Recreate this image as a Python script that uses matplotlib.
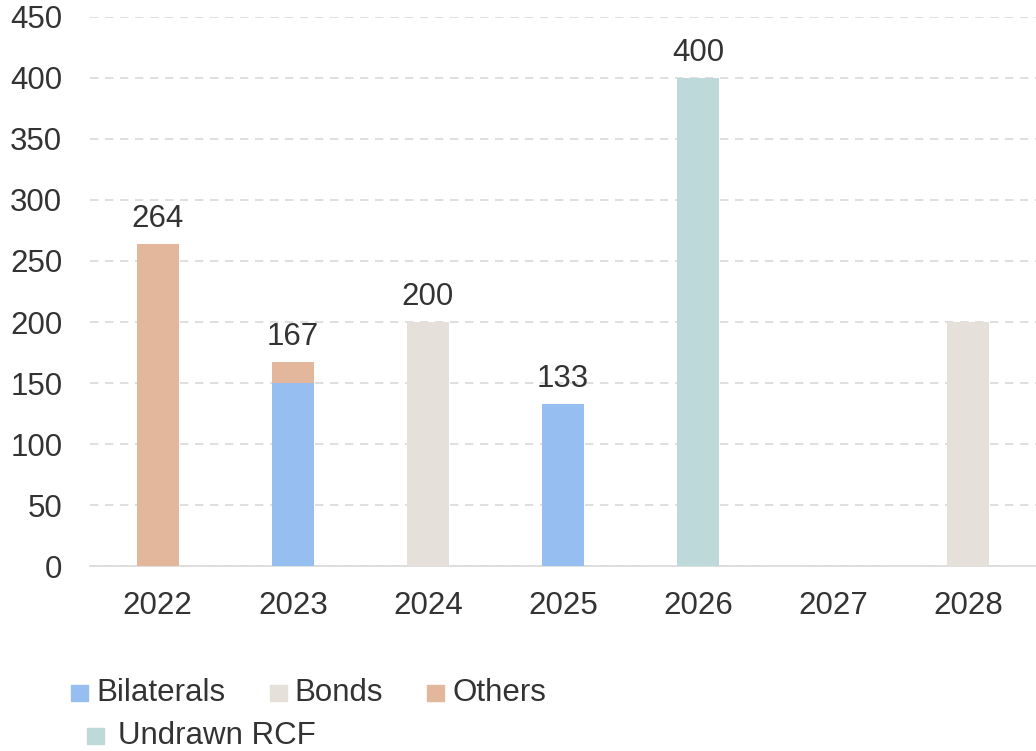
import numpy as np
import matplotlib.pyplot as plt
from matplotlib.patches import Rectangle

plt.rcParams['font.family'] = ['Liberation Sans', 'DejaVu Sans']

years = ["2022", "2023", "2024", "2025", "2026", "2027", "2028"]
bilaterals = [0, 150, 0, 133, 0, 0, 0]
bonds = [0, 0, 200, 0, 0, 0, 200]
others = [264, 17, 0, 0, 0, 0, 0]
undrawn_rcf = [0, 0, 0, 0, 400, 0, 0]
labels = ["264", "167", "200", "133", "400", "", ""]

c_bil = "#97BEF0"
c_bond = "#E6E0DB"
c_oth = "#E2B79B"
c_rcf = "#BDD9D9"
txt = "#333333"
fs = 22.5

fig = plt.figure(figsize=(10.36, 7.51), dpi=100)
ax = fig.add_axes([0.087, 0.2463, 0.913, 0.7311])

x = np.arange(len(years))
w = 0.31
bottom = np.zeros(len(years))
for vals, col in [(bilaterals, c_bil), (bonds, c_bond), (others, c_oth), (undrawn_rcf, c_rcf)]:
    ax.bar(x, vals, w, bottom=bottom, color=col, zorder=3)
    bottom += np.array(vals)

for i, lab in enumerate(labels):
    if lab:
        ax.text(x[i], bottom[i] + 14, lab, ha="center", va="baseline", fontsize=fs, color=txt)

ax.set_xlim(-0.5, len(years) - 0.5)
ax.set_ylim(0, 450)
ax.set_yticks(range(0, 451, 50))
ax.set_xticks(x)
ax.set_xticklabels(years)
ax.tick_params(axis="both", length=0, labelsize=fs, labelcolor=txt)
ax.tick_params(axis="x", pad=18)
ax.tick_params(axis="y", pad=20)
ax.yaxis.grid(True, color="#D9D9D9", linestyle=(0, (5, 4)), linewidth=1.2, zorder=0)
for s in ["top", "right", "left"]:
    ax.spines[s].set_visible(False)
ax.spines["bottom"].set_color("#D9D9D9")
ax.spines["bottom"].set_linewidth(1.2)

# legend, placed by hand: three entries on the first row, one on the second
W, H = 1036.0, 751.0
legend_items = [
    ("Bilaterals", c_bil, 71, 96, 701),
    ("Bonds", c_bond, 270, 294, 701),
    ("Others", c_oth, 427, 452, 701),
    ("Undrawn RCF", c_rcf, 87, 118, 744),
]
for name, col, sx, tx, base in legend_items:
    fig.patches.append(Rectangle((sx / W, (H - base) / H), 16.5 / W, 16.5 / H,
                                 transform=fig.transFigure, color=col))
    fig.text(tx / W, (H - base) / H, name, ha="left", va="baseline", fontsize=fs, color=txt)

fig.savefig("out.png", dpi=100)
